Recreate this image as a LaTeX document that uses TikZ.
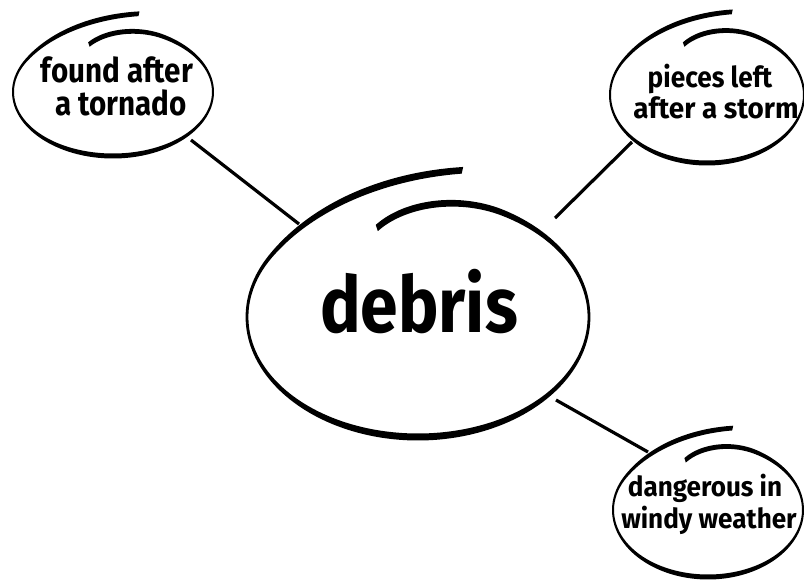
\documentclass[tikz,border=0pt]{standalone}
\usepackage{fontspec}
\setmainfont{Fira Sans}
\usepackage{graphicx}
\tikzset{
  declare function={
    rr(\t)=1-0.22*(max(0,(300-\t)/48))^2+0.25*(max(0,(\t-570)/72))^2;
    ww(\t)=0.4+0.6*(sin(\t))^2;
  },
  conn/.style={line width=3.2pt},
  lbl/.style={anchor=base, inner sep=0pt}
}
\newcommand\sxy[3]{\scalebox{#1}[#2]{#3}}
\newcommand\fs[1]{\bfseries\fontsize{#1}{#1}\selectfont}
\newcommand\bubble[5]{%
  \fill plot[smooth, variable=\t, domain=252:642, samples=120]
    ({#1+(rr(\t)*#3+ww(\t)*#5/2)*cos(\t)},{#2+(rr(\t)*#4+ww(\t)*#5/2)*sin(\t)})
    -- plot[smooth, variable=\t, domain=642:252, samples=120]
    ({#1+(rr(\t)*#3-ww(\t)*#5/2)*cos(\t)},{#2+(rr(\t)*#4-ww(\t)*#5/2)*sin(\t)})
    -- cycle;}
\begin{document}
\begin{tikzpicture}[x=1pt,y=-1pt]
\useasboundingbox (0,0) rectangle (804,579);
\fill[white] (0,0) rectangle (804,579);
% bubbles
\bubble{418}{317}{171}{120}{7}
\bubble{113}{92}{100}{64}{5}
\bubble{707}{95}{97}{68}{5}
\bubble{708}{510}{95}{67}{5}
% text
\node[lbl, font=\fs{78}] (deb) at (419,332) {\sxy{0.87}{1}{debris}};
\node[lbl, font=\fs{34}] (tl1) at (117,82) {\sxy{0.87}{1}{found after}};
\node[lbl, font=\fs{34}] (tl2) at (121,115) {\sxy{0.87}{1}{a tornado}};
\node[lbl, font=\fs{32}] (tr1) at (710,87) {\sxy{0.82}{0.9}{pieces left}};
\node[lbl, font=\fs{32}] (tr2) at (716,118) {\sxy{0.87}{0.9}{after a storm}};
\node[lbl, font=\fs{30}] (br1) at (705,496) {\sxy{0.87}{0.92}{dangerous in}};
\node[lbl, font=\fs{30}] (br2) at (709,528) {\sxy{0.87}{0.92}{windy weather}};
% connectors
\coordinate (tlA) at (191,140); \coordinate (cA) at (299,224);
\coordinate (trA) at (632,142); \coordinate (cB) at (555,218);
\coordinate (brA) at (648,452); \coordinate (cC) at (556,400);
\draw[conn] (tlA) -- (cA);
\draw[conn] (trA) -- (cB);
\draw[conn] (cC) -- (brA);
\end{tikzpicture}
\end{document}
